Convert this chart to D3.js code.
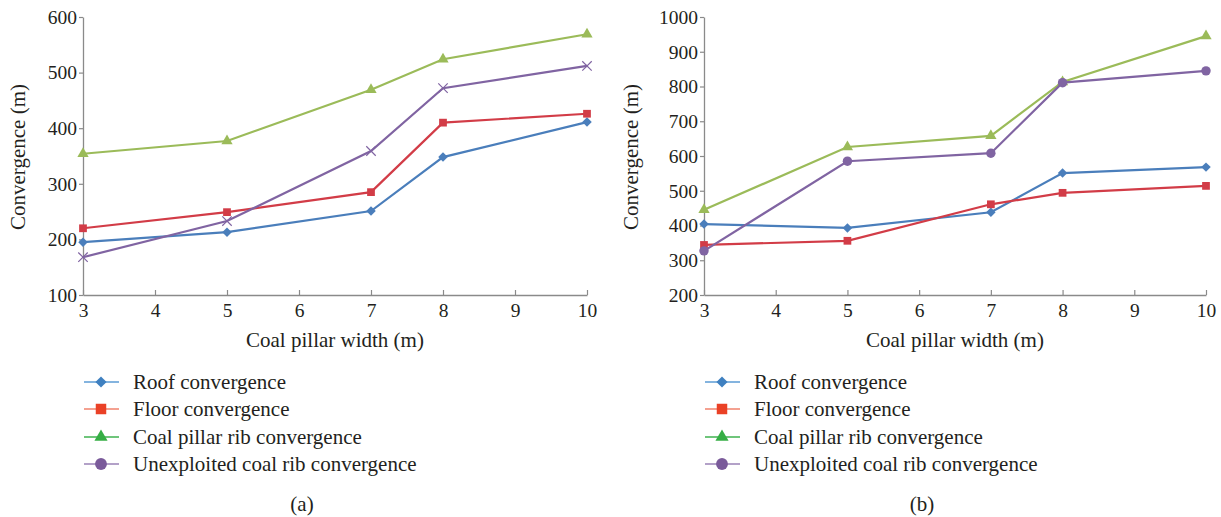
<!DOCTYPE html>
<html>
<head>
<meta charset="utf-8">
<script src="https://cdn.jsdelivr.net/npm/d3@7"></script>
<style>
  body { margin: 0; background: #fff; }
  text { font-family: "Liberation Serif", "DejaVu Serif", serif; fill: #231f20; }
</style>
</head>
<body>
<div id="container"></div>
<script>
const width = 1221;
const height = 517;

// pillar widths (m)
const widths = [3, 5, 7, 8, 10];
const xTicks = [3, 4, 5, 6, 7, 8, 9, 10];

const seriesNames = ["Roof convergence", "Floor convergence", "Coal pillar rib convergence", "Unexploited coal rib convergence"];

// panel (a)
const roofA = [195, 213, 251, 348, 411];
const floorA = [220, 249, 285, 410, 426];
const pillarA = [354, 377, 469, 524, 569];
const unexplA = [168, 233, 359, 472, 512];
const yTicksA = [100, 200, 300, 400, 500, 600];

// panel (b)
const roofB = [404, 393, 438, 551, 568];
const floorB = [344, 356, 461, 494, 514];
const pillarB = [445, 626, 658, 813, 945];
const unexplB = [327, 585, 608, 811, 845];
const yTicksB = [200, 300, 400, 500, 600, 700, 800, 900, 1000];

const lineColors = ["#4a7ebb", "#d23c47", "#9bbb59", "#8064a2"];
const legendLineColors = ["#5b9bd5", "#f0826d", "#3fb24f", "#9a82b6"];
const legendMarkColors = ["#3f80c0", "#ea4126", "#36ae45", "#7a5a9a"];

const svg = d3.select("#container")
              .append("svg")
              .attr("width", width)
              .attr("height", height);

// diamond = square turned 45 degrees (d3's own diamond is too tall)
const symbolFor = (name, size) => {
  if (name === "diamond") return d3.symbol().type(d3.symbolSquare).size(size || 45);
  if (name === "square") return d3.symbol().type(d3.symbolSquare).size(size || 60);
  if (name === "triangle") return d3.symbol().type(d3.symbolTriangle).size(size || 55);
  if (name === "cross") return d3.symbol().type(d3.symbolX).size(size || 60);
  return d3.symbol().type(d3.symbolCircle).size(size || 70);
};
const turn = (name) => name === "diamond" ? " rotate(45)" : "";

const drawPanel = (opt) => {
  const g = svg.append("g");
  const x = d3.scaleLinear().domain([3, 10]).range([opt.left, opt.right]);
  const y = d3.scaleLinear().domain(opt.yDomain).range([295, 17]);

  // axes
  const xAxis = g.append("g")
                 .attr("transform", "translate(0,295)")
                 .call(d3.axisBottom(x).tickValues(xTicks).tickFormat(d3.format("d"))
                         .tickSizeInner(-5).tickSizeOuter(0).tickPadding(8));
  const yAxis = g.append("g")
                 .attr("transform", "translate(" + opt.left + ",0)")
                 .call(d3.axisLeft(y).tickValues(opt.yTicks).tickFormat(d3.format("d"))
                         .tickSizeInner(4).tickSizeOuter(0).tickPadding(2));
  [xAxis, yAxis].forEach(a => {
    a.select(".domain").attr("stroke", "#8a8a8a").attr("stroke-width", 1.3);
    a.selectAll(".tick line").attr("stroke", "#8a8a8a").attr("stroke-width", 1.2);
    a.selectAll(".tick text").style("font-size", "19.5px").attr("fill", "#231f20");
  });
  xAxis.selectAll(".tick text").attr("dy", "0.71em");

  g.append("text")
   .attr("x", (opt.left + opt.right) / 2)
   .attr("y", 347)
   .attr("text-anchor", "middle")
   .style("font-size", "21px")
   .text("Coal pillar width (m)");

  g.append("text")
   .attr("transform", "translate(" + opt.yLabelX + ",157) rotate(-90)")
   .attr("text-anchor", "middle")
   .style("font-size", "21px")
   .text("Convergence (m)");

  const line = d3.line().x((d, i) => x(widths[i])).y(d => y(d));

  opt.series.forEach((vals, k) => {
    const m = opt.markers[k];
    g.append("path")
     .datum(vals)
     .attr("d", line)
     .attr("fill", "none")
     .attr("stroke", lineColors[k])
     .attr("stroke-width", 2.2);
    const marks = g.append("g").selectAll("path")
     .data(vals)
     .enter()
     .append("path")
     .attr("transform", (d, i) => "translate(" + x(widths[i]) + "," + y(d) + ")" + turn(m))
     .attr("d", symbolFor(m));
    if (m === "cross") {
      marks.attr("fill", "none").attr("stroke", lineColors[k]).attr("stroke-width", 1.2);
    } else {
      marks.attr("fill", lineColors[k]);
    }
  });

  // legend
  const lg = g.append("g");
  const rows = [382, 409, 437, 464];
  const legendMarks = ["diamond", "square", "triangle", "circle"];
  const sizes = [62, 110, 75, 110];
  seriesNames.forEach((name, k) => {
    lg.append("line")
      .attr("x1", opt.left + 1).attr("x2", opt.left + 36)
      .attr("y1", rows[k]).attr("y2", rows[k])
      .attr("stroke", legendLineColors[k])
      .attr("stroke-width", 1.6);
    lg.append("path")
      .attr("transform", "translate(" + (opt.left + 18) + "," + rows[k] + ")" + turn(legendMarks[k]))
      .attr("d", symbolFor(legendMarks[k], sizes[k]))
      .attr("fill", legendMarkColors[k]);
    lg.append("text")
      .attr("x", opt.left + 50)
      .attr("y", rows[k])
      .attr("dy", "0.33em")
      .style("font-size", "21px")
      .text(name);
  });

  g.append("text")
   .attr("x", opt.capX)
   .attr("y", 504)
   .attr("dy", "0.33em")
   .attr("text-anchor", "middle")
   .style("font-size", "21px")
   .text(opt.caption);
};

drawPanel({
  left: 83, right: 587, yDomain: [100, 600], yTicks: yTicksA, yLabelX: 25,
  series: [roofA, floorA, pillarA, unexplA],
  markers: ["diamond", "square", "triangle", "cross"],
  caption: "(a)", capX: 302
});

drawPanel({
  left: 704, right: 1206, yDomain: [200, 1000], yTicks: yTicksB, yLabelX: 638,
  series: [roofB, floorB, pillarB, unexplB],
  markers: ["diamond", "square", "triangle", "circle"],
  caption: "(b)", capX: 922
});
</script>
</body>
</html>
